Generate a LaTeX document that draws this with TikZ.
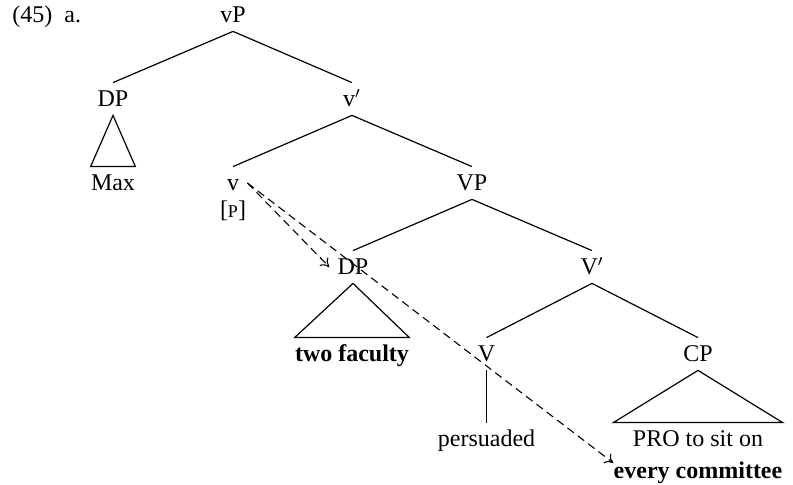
\documentclass[tikz,border=0pt]{standalone}
\usepackage{fontspec}
\setmainfont{Liberation Serif}
\usepackage{tikz}
\usetikzlibrary{arrows.meta}

\begin{document}
\begin{tikzpicture}[x=0.5pt, y=-0.5pt,
		every node/.style={font=\fontsize{12}{14}\selectfont},
		cat/.style={anchor=base, inner sep=4pt, text height=8pt, text depth=0pt},
		leaf/.style={anchor=base, inner xsep=0pt, inner ysep=4pt, text height=8pt, text depth=0pt},
		branch/.style={line width=0.6pt},
		trace/.style={-{To[length=4pt,width=6pt]}, line width=0.55pt, dash pattern=on 4pt off 2.5pt}]
	\useasboundingbox (0,0) rectangle (793,485);
	% example number
	\node[anchor=base west, inner sep=0pt] (ex) at (12,23) {(45)\hspace{6pt}a.};
	% categories
	\node[cat] (vP) at (233,23) {vP};
	\node[cat] (dpa) at (113,107) {DP};
	\node[cat] (vbar) at (352,107) {v$'$};
	\node[cat] (v) at (233,191) {v};
	\node[anchor=base, inner sep=0pt] (feat) at (233,218) {[{\fontsize{9}{10}\selectfont P}]};
	\node[cat] (VP) at (472,191) {VP};
	\node[cat] (dpb) at (353,275) {DP};
	\node[cat] (Vbar) at (592,275) {V$'$};
	\node[cat] (V) at (486.5,362) {V};
	\node[cat] (CP) at (698,362) {CP};
	% leaves
	\node[leaf] (max) at (113,191) {Max};
	\node[leaf] (two) at (352,362) {\bfseries two faculty};
	\node[leaf] (pers) at (486.5,447) {persuaded};
	\node[leaf] (pro) at (698,447) {PRO to sit on};
	\node[leaf] (comm) at (698,479) {\bfseries every committee};
	% branches
	\draw[branch] (vP.south) -- (dpa.north);
	\draw[branch] (vP.south) -- (vbar.north);
	\draw[branch] (vbar.south) -- (v.north);
	\draw[branch] (vbar.south) -- (VP.north);
	\draw[branch] (VP.south) -- (dpb.north);
	\draw[branch] (VP.south) -- (Vbar.north);
	\draw[branch] (Vbar.south) -- (V.north);
	\draw[branch] (Vbar.south) -- (CP.north);
	\draw[branch] (V.south) -- (pers.north);
	% triangles
	\draw[branch] (dpa.south) -- (max.north west) -- (max.north east) -- cycle;
	\draw[branch] (dpb.south) -- (two.north west) -- (two.north east) -- cycle;
	\draw[branch] (CP.south) -- (pro.north -| comm.west) -- (pro.north -| comm.east) -- cycle;
	% movement
	\draw[trace] (v.east) -- (dpb.west);
	\draw[trace] (v.east) -- ([yshift=4pt]comm.west);
\end{tikzpicture}
\end{document}
